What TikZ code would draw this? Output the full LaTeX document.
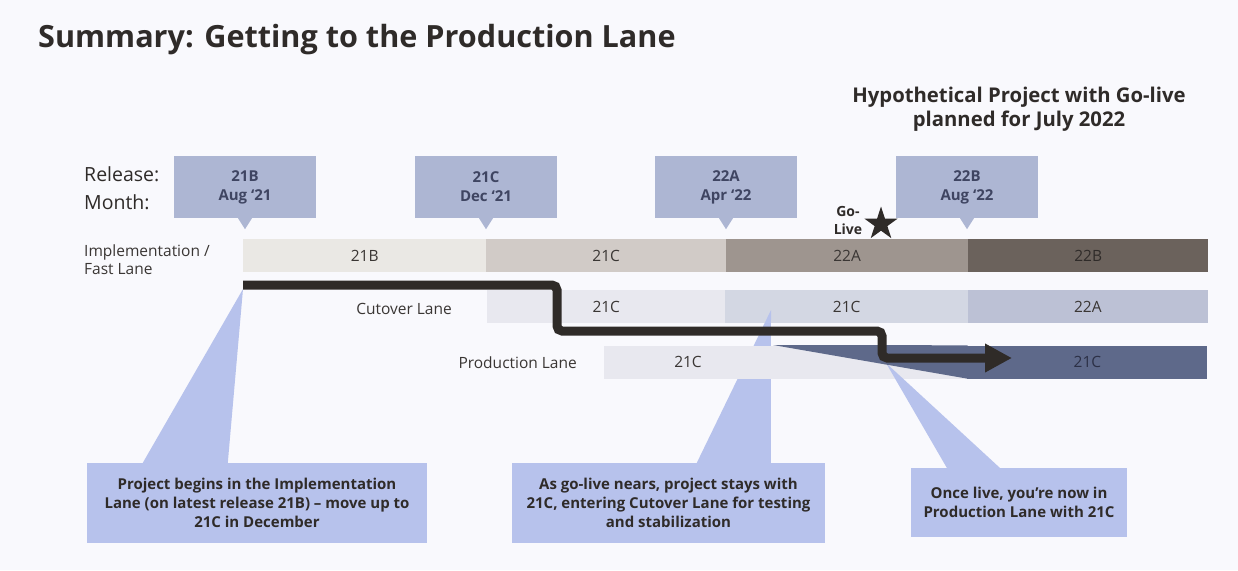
\documentclass[tikz,border=0pt]{standalone}
\usepackage{fontspec}
\setmainfont{Open Sans}
\usetikzlibrary{arrows.meta,shapes.geometric,positioning}
\tikzset{>=stealth}

\definecolor{bgcol}{RGB}{249,249,253}
\definecolor{titlecol}{RGB}{47,43,41}
\definecolor{textcol}{RGB}{58,54,52}
\definecolor{relfill}{RGB}{173,182,211}
\definecolor{reltext}{RGB}{63,69,98}
\definecolor{notefill}{RGB}{183,194,236}
\definecolor{implA}{RGB}{234,232,228}
\definecolor{implB}{RGB}{209,203,199}
\definecolor{implC}{RGB}{158,149,143}
\definecolor{implD}{RGB}{107,98,92}
\definecolor{cutA}{RGB}{232,232,239}
\definecolor{cutB}{RGB}{211,215,227}
\definecolor{cutC}{RGB}{188,193,213}
\definecolor{prodA}{RGB}{232,232,239}
\definecolor{prodB}{RGB}{94,105,138}
\definecolor{pathcol}{RGB}{47,43,40}

\tikzset{
  relbox/.style={fill=relfill,text=reltext,minimum width=142pt,minimum height=62pt,inner sep=0pt,align=center,font=\bfseries\fontsize{15}{19}\selectfont},
  lane/.style={minimum height=33pt,inner sep=0pt,text=textcol,font=\fontsize{15.5}{18}\selectfont},
  lanename/.style={inner sep=0pt,text=textcol,font=\fontsize{15.5}{18}\selectfont},
  notebox/.style={fill=notefill,text=titlecol,inner sep=0pt,align=center,font=\bfseries\fontsize{15}{19}\selectfont},
}

\begin{document}
\begin{tikzpicture}[x=1pt,y=-1pt]
\useasboundingbox (0,0) rectangle (1238,570);
\fill[bgcol] (0,0) rectangle (1238,570);

\node (title) [anchor=base west,inner sep=0pt,text=titlecol,font=\bfseries\fontsize{30.6}{36}\selectfont] at (38,47) {Summary: Getting to the Production Lane};
\node (hypo) [align=center,inner sep=0pt,text=titlecol,font=\bfseries\fontsize{20.3}{23.5}\selectfont] at (1019,109) {Hypothetical Project with Go-live\\planned for July 2022};

\node (release) [anchor=base west,inner sep=0pt,text=titlecol,font=\fontsize{19.5}{22}\selectfont] at (84,181) {Release:};
\node (month) [anchor=base west,inner sep=0pt,text=titlecol,font=\fontsize{19.5}{22}\selectfont] at (84,209) {Month:};

% release markers
\node (r21b) [relbox] at (245,187) {21B\\Aug ‘21};
\node (r21c) [relbox] at (486,187) {21C\\Dec ‘21};
\node (r22a) [relbox] at (726,187) {22A\\Apr ‘22};
\node (r22b) [relbox] at (967,187) {22B\\Aug ‘22};
\fill[relfill] ([xshift=-7pt]r21b.south) -- ([yshift=-11pt]r21b.south) -- ([xshift=7pt]r21b.south) -- cycle;
\fill[relfill] ([xshift=-7pt]r21c.south) -- ([yshift=-11pt]r21c.south) -- ([xshift=7pt]r21c.south) -- cycle;
\fill[relfill] ([xshift=-7pt]r22a.south) -- ([yshift=-11pt]r22a.south) -- ([xshift=7pt]r22a.south) -- cycle;
\fill[relfill] ([xshift=-7pt]r22b.south) -- ([yshift=-11pt]r22b.south) -- ([xshift=7pt]r22b.south) -- cycle;

\node (golivetxt) [align=center,inner sep=0pt,text=titlecol,font=\bfseries\fontsize{14}{18}\selectfont] at (848,220) {Go-\\Live};
\node (golive) [star,star points=5,star point ratio=2.618,fill=titlecol,minimum size=35pt,inner sep=0pt] at (881,224) {};

% lane names
\node (impltxt) [lanename,anchor=base west] at (84,256) {Implementation /};
\node (fasttxt) [lanename,anchor=base west] at (84,274) {Fast Lane};
\node (cuttxt) [lanename,anchor=base east] at (452,314) {Cutover Lane};
\node (prodtxt) [lanename,anchor=base east] at (577,368) {Production Lane};

% implementation lane
\node (impl21b) [lane,fill=implA,minimum width=243.5pt] at (364.75,255.5) {21B};
\node (impl21c) [lane,fill=implB,minimum width=239.5pt,right=-0.5pt of impl21b] {21C};
\node (impl22a) [lane,fill=implC,minimum width=242.5pt,right=-0.5pt of impl21c] {22A};
\node (impl22b) [lane,fill=implD,minimum width=240pt,right=-0.5pt of impl22a,text=titlecol] {22B};

% cutover lane
\node (cut21c) [lane,fill=cutA,minimum width=238.5pt] at (606.25,306.5) {21C};
\node (cut21cb) [lane,fill=cutB,minimum width=242.5pt,right=-0.5pt of cut21c] {21C};
\node (cut22a) [lane,fill=cutC,minimum width=240pt,right=-0.5pt of cut21cb] {22A};

% notes
\node (note1) [notebox,minimum width=340pt,minimum height=80pt] at (257,503) {Project begins in the Implementation\\Lane (on latest release 21B) – move up to\\21C in December};
\node (note2) [notebox,minimum width=313pt,minimum height=80pt] at (668.5,503) {As go-live nears, project stays with\\21C, entering Cutover Lane for testing\\and stabilization};
\node (note3) [notebox,minimum width=216pt,minimum height=69pt] at (1019,502.5) {Once live, you’re now in\\Production Lane with 21C};
\coordinate (tip1) at (243,289);
\coordinate (tip2) at (771,310);
\coordinate (tip3) at (886,363);
\fill[notefill] ([xshift=185pt]note2.north west) -- (tip2) -- ([xshift=259pt]note2.north west) -- cycle;

% production lane
\node (prodold) [lane,fill=prodA,minimum width=363.5pt] at (785.75,362) {};
\node (prodoldtxt) [lane] at (688,362) {21C};
\fill[notefill] ([xshift=36pt]note3.north west) -- (tip3) -- ([xshift=89pt]note3.north west) -- cycle;
\fill[prodB] (773,345) -- (prodold.north east) -- (prodold.south east) -- cycle;
\node (prod21c) [lane,fill=prodB,minimum width=240pt,right=-0.5pt of prodold,text={rgb,255:red,44;green,48;blue,70}] {21C};
\fill[notefill] ([xshift=56pt]note1.north west) -- (tip1) -- ([xshift=141pt]note1.north west) -- cycle;

% project path
\coordinate (pathstart) at (243,285);
\coordinate (pathend) at (1012,358);
\draw[pathcol,line width=9pt,rounded corners=5pt,-{Triangle[length=27pt,width=27pt]}] (pathstart) -- (557,285) -- (557,331) -- (882,331) -- (882,358) -- (pathend);
\end{tikzpicture}
\end{document}
